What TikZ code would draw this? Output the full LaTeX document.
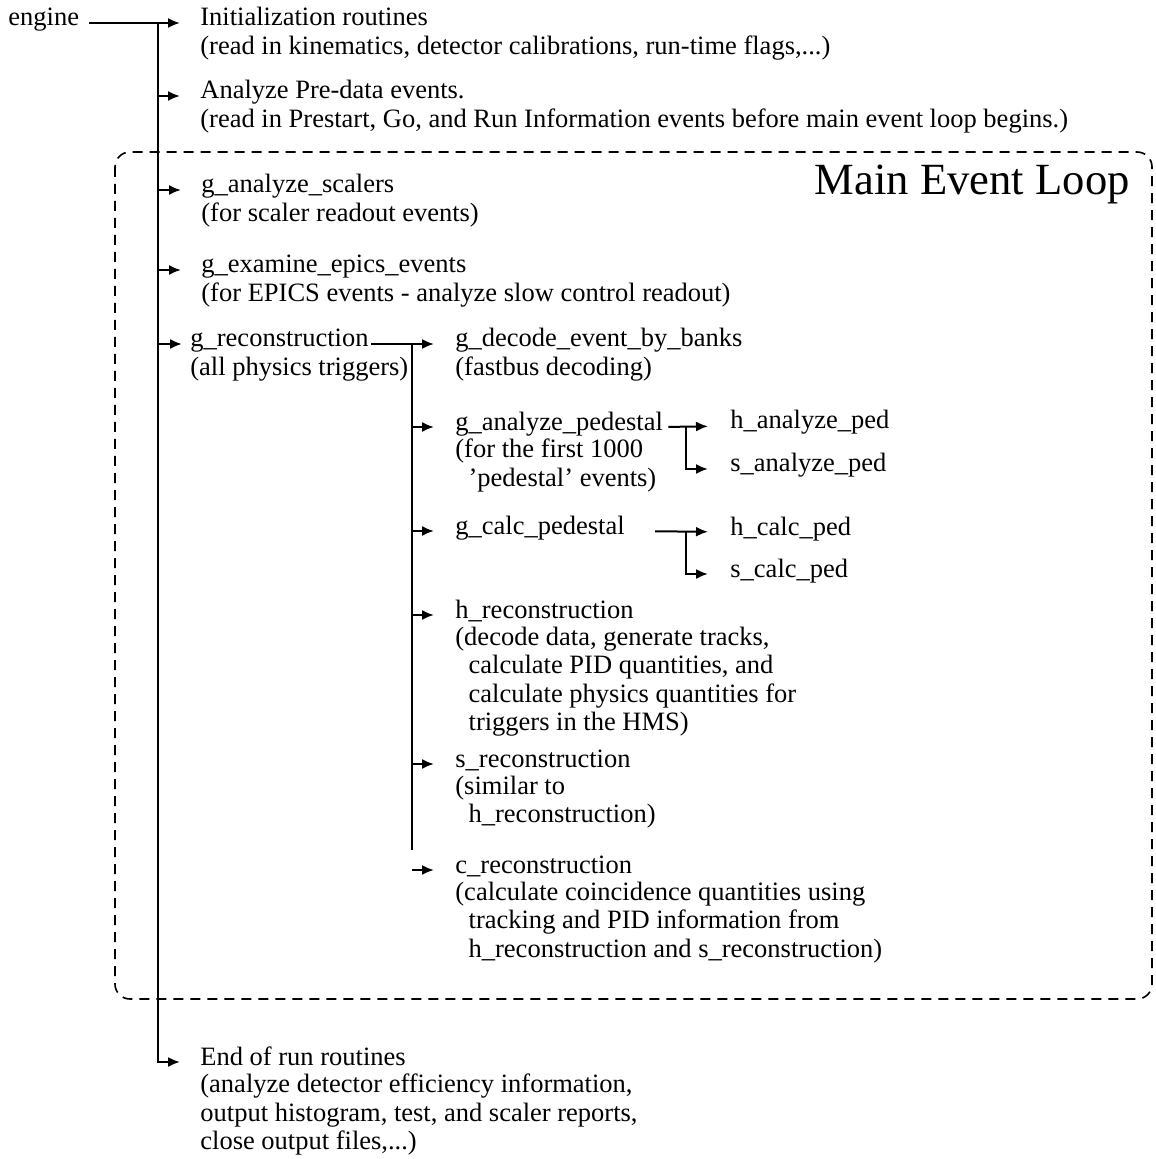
\documentclass[tikz,border=0pt]{standalone}
\usepackage{fontspec}
\setmainfont{Liberation Serif}
\usetikzlibrary{arrows.meta,positioning}
\tikzset{
  title/.style={anchor=base west, inner sep=0pt, text height=9.5pt, text depth=6.5pt,
    font=\fontsize{13.25}{14.25}\selectfont},
  note/.style={below right=4.275pt and 0pt of #1.base west, inner sep=0pt, align=left,
    font=\fontsize{13.25}{14.25}\selectfont, execute at begin node=\strut},
  link/.style={-{Latex[length=6pt,width=5pt]}, line width=1pt},
  bar/.style={line width=1pt},
  loopbox/.style={line width=0.8pt, dash pattern=on 5pt off 3.5pt, rounded corners=7.5pt}
}
\begin{document}
\begin{tikzpicture}[x=0.5pt,y=-0.5pt]
\useasboundingbox (0,0) rectangle (1155,1159);
% main event loop frame
\draw[loopbox] (115,152) rectangle (1152,999);
\node[anchor=base east, inner sep=0pt, font=\fontsize{22.3}{26}\selectfont] (looptitle) at (1130,195) {Main Event Loop};
% top level
\node[title] (engine) at (8,26) {engine};
\node[title] (init) at (200,26) {Initialization routines};
\node[note=init] (init-n) {(read in kinematics, detector calibrations, run-time flags,...)};
\node[title] (predata) at (200,99) {Analyze Pre-data events.};
\node[note=predata] (predata-n) {(read in Prestart, Go, and Run Information events before main event loop begins.)};
\node[title] (scalers) at (201,193) {g\_analyze\_scalers};
\node[note=scalers] (scalers-n) {(for scaler readout events)};
\node[title] (epics) at (201,273) {g\_examine\_epics\_events};
\node[note=epics] (epics-n) {(for EPICS events - analyze slow control readout)};
\node[title] (greco) at (190,347) {g\_reconstruction};
\node[note=greco] (greco-n) {(all physics triggers)};
\node[title] (endrun) at (200,1065) {End of run routines};
\node[note=endrun] (endrun-n) {(analyze detector efficiency information,\\output histogram, test, and scaler reports,\\close output files,...)};
% reconstruction level
\node[title] (decode) at (455,347) {g\_decode\_event\_by\_banks};
\node[note=decode] (decode-n) {(fastbus decoding)};
\node[title] (gaped) at (455,430) {g\_analyze\_pedestal};
\node[note=gaped] (gaped-n) {(for the first 1000\\\hspace*{0.5em}'pedestal' events)};
\node[title] (gcalc) at (455,534) {g\_calc\_pedestal};
\node[title] (hreco) at (455,618) {h\_reconstruction};
\node[note=hreco] (hreco-n) {(decode data, generate tracks,\\\hspace*{0.5em}calculate PID quantities, and\\\hspace*{0.5em}calculate physics quantities for\\\hspace*{0.5em}triggers in the HMS)};
\node[title] (sreco) at (455,767) {s\_reconstruction};
\node[note=sreco] (sreco-n) {(similar to\\\hspace*{0.5em}h\_reconstruction)};
\node[title] (creco) at (455,873) {c\_reconstruction};
\node[note=creco] (creco-n) {(calculate coincidence quantities using\\\hspace*{0.5em}tracking and PID information from\\\hspace*{0.5em}h\_reconstruction and s\_reconstruction)};
% pedestal level
\node[title] (hap) at (730,429) {h\_analyze\_ped};
\node[title] (sap) at (730,472) {s\_analyze\_ped};
\node[title] (hcalc) at (730,535) {h\_calc\_ped};
\node[title] (scalc) at (730,577) {s\_calc\_ped};
% main trunk
\coordinate (tr) at (158,0);
\draw[link, shorten <=5pt, shorten >=10pt] (engine.east) -- (init.west);
\draw[link, shorten >=10pt] (tr |- init.west) -- (tr |- endrun.west) -- (endrun.west);
\draw[link, shorten >=10pt] (tr |- predata.west) -- (predata.west);
\draw[link, shorten >=10pt] (tr |- scalers.west) -- (scalers.west);
\draw[link, shorten >=10pt] (tr |- epics.west) -- (epics.west);
\draw[link, shorten >=4pt] (tr |- greco.west) -- (greco.west);
% reconstruction trunk
\coordinate (sub) at (412,850);
\draw[link, shorten <=1pt, shorten >=10.5pt] (greco.east) -- (decode.west);
\draw[bar] (sub |- decode.west) -- (sub);
\draw[link, shorten >=10.5pt] (sub |- gaped.west) -- (gaped.west);
\draw[link, shorten >=10.5pt] (sub |- gcalc.west) -- (gcalc.west);
\draw[link, shorten >=10.5pt] (sub |- hreco.west) -- (hreco.west);
\draw[link, shorten >=10.5pt] (sub |- sreco.west) -- (sreco.west);
\draw[link, shorten >=10.5pt] (sub |- creco.west) -- (creco.west);
% pedestal branches
\coordinate (ped) at (686,0);
\draw[link, shorten <=2.5pt, shorten >=11pt] (gaped.east) -- (hap.west);
\draw[link, shorten >=11pt] (ped |- hap.west) -- (ped |- sap.west) -- (sap.west);
\draw[link, shorten <=15pt, shorten >=11pt] (gcalc.east) -- (hcalc.west);
\draw[link, shorten >=11pt] (ped |- hcalc.west) -- (ped |- scalc.west) -- (scalc.west);
\end{tikzpicture}
\end{document}
